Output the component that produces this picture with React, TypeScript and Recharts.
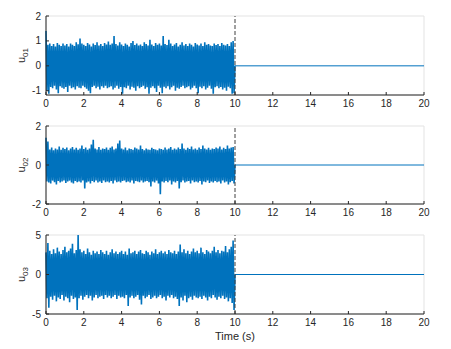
import React from "react";
import {
  LineChart,
  Line,
  XAxis,
  YAxis,
  CartesianGrid,
  ReferenceLine,
} from "recharts";

// envelope of each noisy input, one upper and one lower peak per 0.1 s (t = 0 .. 9.9)
const u01Upper = [
  1.4, 0.85, 0.9, 0.8, 0.88, 0.78, 0.92, 0.85, 0.8, 0.9,
  0.82, 0.88, 0.78, 0.9, 0.85, 0.8, 0.95, 0.87, 1.1, 0.9,
  0.85, 0.8, 0.92, 0.86, 0.78, 0.9, 0.84, 0.95, 0.82, 0.88,
  0.8, 0.92, 0.86, 0.98, 0.85, 0.9, 1.2, 0.88, 0.82, 0.95,
  0.86, 0.8, 0.9, 0.85, 0.78, 0.92, 1.0, 0.84, 0.9, 0.82,
  0.86, 0.8, 0.95, 0.88, 0.82, 1.05, 0.86, 0.8, 0.92, 0.85,
  0.9, 0.82, 1.2, 0.88, 0.84, 1.05, 0.9, 0.8, 0.86, 0.92,
  0.78, 0.85, 0.95, 0.82, 0.88, 0.8, 0.9, 0.85, 0.78, 0.92,
  0.86, 0.82, 0.9, 0.8, 0.95, 0.85, 0.88, 0.82, 0.8, 0.9,
  0.84, 0.88, 0.8, 0.92, 0.85, 0.82, 0.88, 0.8, 0.95, 1.0,
];
const u01Lower = [
  -1.0, -1.12, -0.85, -0.9, -0.8, -0.95, -1.1, -0.82, -0.88, -0.92,
  -0.85, -1.05, -0.8, -0.9, -0.86, -0.95, -0.82, -0.88, -0.9, -0.8,
  -0.86, -0.92, -1.0, -1.1, -0.85, -0.8, -0.9, -0.84, -0.95, -0.82,
  -0.88, -0.8, -0.9, -0.86, -0.82, -0.95, -0.88, -0.8, -0.92, -0.85,
  -1.12, -0.86, -0.9, -0.8, -0.95, -0.84, -0.88, -1.0, -0.82, -0.9,
  -0.85, -0.8, -0.92, -0.86, -1.12, -0.88, -0.82, -0.9, -1.05, -0.8,
  -0.88, -1.1, -0.84, -0.9, -0.82, -0.95, -0.86, -0.8, -1.0, -0.88,
  -0.92, -0.85, -0.8, -0.9, -0.86, -0.82, -0.95, -0.88, -0.8, -0.9,
  -1.1, -0.84, -0.9, -0.82, -0.95, -0.88, -0.8, -0.92, -1.12, -0.86,
  -0.82, -0.9, -0.85, -0.95, -0.88, -1.0, -0.84, -0.9, -1.12, -1.1,
];

const u02Upper = [
  1.4, 1.2, 0.8, 0.9, 0.75, 0.85, 0.8, 0.95, 0.78, 0.88,
  0.82, 0.9, 0.75, 0.85, 0.92, 0.8, 0.88, 0.78, 0.85, 1.0,
  0.82, 0.9, 0.78, 0.85, 1.05, 1.3, 0.85, 0.8, 0.92, 0.78,
  0.85, 0.82, 0.9, 0.78, 0.88, 0.95, 0.8, 0.85, 1.1, 1.25,
  0.85, 0.8, 0.9, 0.75, 0.85, 0.82, 0.78, 0.9, 0.85, 0.8,
  1.0, 0.82, 0.75, 0.85, 0.8, 0.78, 0.88, 0.82, 0.8, 0.75,
  0.85, 0.82, 0.78, 0.9, 0.8, 0.85, 0.92, 0.78, 0.85, 0.8,
  0.9, 0.82, 1.1, 0.85, 0.78, 0.88, 0.82, 0.95, 0.8, 0.85,
  0.78, 0.9, 0.82, 1.0, 0.85, 0.8, 0.88, 0.78, 0.85, 0.82,
  0.9, 0.85, 0.95, 0.8, 0.88, 0.82, 1.0, 0.85, 0.9, 0.92,
];
const u02Lower = [
  -0.85, -0.9, -0.95, -0.8, -0.88, -1.0, -0.82, -0.9, -0.85, -0.8,
  -0.92, -0.85, -0.8, -0.9, -0.95, -0.82, -0.88, -0.85, -0.9, -0.8,
  -1.2, -0.9, -0.85, -0.95, -0.82, -0.88, -0.8, -0.9, -0.85, -0.92,
  -0.8, -0.88, -0.85, -0.9, -0.82, -0.95, -0.8, -0.88, -0.85, -0.9,
  -0.82, -0.8, -0.88, -0.85, -0.9, -0.8, -0.95, -0.82, -0.85, -0.88,
  -0.8, -0.9, -0.85, -0.82, -0.88, -1.1, -0.85, -0.9, -0.8, -0.95,
  -1.5, -0.85, -0.9, -0.82, -0.88, -0.8, -1.0, -0.85, -0.9, -0.82,
  -1.2, -0.88, -0.8, -0.9, -0.85, -0.82, -0.95, -0.8, -0.88, -0.85,
  -0.9, -0.82, -1.0, -0.85, -0.88, -0.8, -0.92, -0.85, -0.9, -0.82,
  -0.88, -0.85, -0.95, -0.8, -0.9, -0.85, -1.0, -0.88, -0.82, -0.95,
];

const u03Upper = [
  2.8, 4.0, 3.0, 2.6, 3.2, 2.7, 3.4, 2.9, 2.6, 3.1,
  3.5, 2.8, 3.0, 3.3, 3.9, 2.7, 3.1, 5.0, 3.2, 2.8,
  3.0, 2.6, 3.3, 2.8, 2.5, 3.0, 2.7, 2.9, 2.6, 3.1,
  2.8, 2.6, 3.0, 2.5, 2.8, 3.2, 2.7, 2.9, 2.6, 2.8,
  3.0, 2.6, 2.9, 2.5, 3.3, 2.7, 2.8, 3.0, 2.6, 2.9,
  3.1, 2.7, 2.6, 3.0, 2.8, 2.5, 2.9, 2.7, 3.2, 2.6,
  2.8, 3.0, 2.7, 2.9, 2.6, 3.1, 2.8, 2.7, 3.0, 2.6,
  2.9, 3.8, 2.8, 3.2, 2.7, 3.0, 2.6, 2.9, 3.3, 2.8,
  3.0, 2.7, 3.4, 2.8, 2.6, 3.1, 2.9, 2.7, 3.0, 3.5,
  2.8, 3.1, 2.7, 3.0, 2.9, 3.6, 2.8, 3.2, 3.5, 4.3,
];
const u03Lower = [
  -3.0, -4.2, -2.8, -3.2, -2.7, -3.4, -2.9, -3.1, -2.6, -3.3,
  -2.8, -3.0, -3.5, -2.7, -3.1, -2.9, -4.5, -3.0, -2.7, -3.2,
  -2.8, -2.6, -3.0, -2.7, -3.3, -2.9, -2.6, -3.0, -2.8, -2.7,
  -3.1, -2.6, -2.9, -2.7, -3.0, -2.8, -2.6, -3.1, -2.7, -2.9,
  -2.8, -3.0, -2.6, -4.0, -2.9, -2.7, -3.0, -2.8, -2.6, -3.2,
  -3.8, -2.7, -3.0, -2.8, -2.6, -3.1, -2.9, -2.7, -3.0, -2.8,
  -2.6, -3.0, -2.8, -3.3, -2.7, -2.9, -2.6, -3.0, -2.8, -3.1,
  -4.0, -2.9, -3.3, -2.7, -3.5, -3.0, -2.8, -3.2, -2.7, -2.9,
  -3.0, -2.8, -3.1, -2.7, -2.9, -3.3, -2.8, -3.0, -2.6, -2.9,
  -3.2, -2.8, -3.0, -2.7, -3.1, -2.9, -3.4, -3.0, -3.6, -4.5,
];

const timeTicks = [0, 2, 4, 6, 8, 10, 12, 14, 16, 18, 20];
const inputEnd = 10;
const simEnd = 20;

const BLUE = "#0072BD";
const AXIS = "#262626";
const GRID = "#e3e3e3";
const FONT = "'Liberation Sans', Arial, sans-serif";

function buildSeries(upper: number[], lower: number[]) {
  const rows: { t: number; v: number }[] = [];
  upper.forEach((u, k) => {
    rows.push({ t: k * 0.1, v: u });
    rows.push({ t: k * 0.1 + 0.05, v: lower[k] });
  });
  rows.push({ t: inputEnd, v: 0 });
  return rows;
}

function flatTail() {
  return [
    { t: inputEnd, v: 0 },
    { t: simEnd, v: 0 },
  ];
}

interface PanelProps {
  top: number;
  plotHeight: number;
  data: { t: number; v: number }[];
  domain: [number, number];
  yTicks: number[];
  sub: string;
}

function Panel({ top, plotHeight, data, domain, yTicks, sub }: PanelProps) {
  const tickStyle = { fontSize: 10, fill: AXIS, fontFamily: FONT };
  const height = 16 + plotHeight + 16;
  return (
    <div style={{ position: "absolute", left: 0, top, width: 451, height }}>
      <LineChart
        width={451}
        height={height}
        margin={{ top: 16, right: 27, bottom: 0, left: 0 }}
      >
        <CartesianGrid stroke={GRID} strokeWidth={1} />
        <XAxis
          xAxisId="b"
          dataKey="t"
          type="number"
          domain={[0, simEnd]}
          ticks={timeTicks}
          height={16}
          tickSize={-3}
          tickMargin={8}
          stroke={AXIS}
          tick={tickStyle}
        />
        <XAxis
          xAxisId="t"
          orientation="top"
          dataKey="t"
          type="number"
          domain={[0, simEnd]}
          ticks={timeTicks}
          height={0}
          tickSize={-3}
          stroke={AXIS}
          tickFormatter={() => ""}
        />
        <YAxis
          yAxisId="l"
          type="number"
          domain={domain}
          ticks={yTicks}
          allowDataOverflow
          width={46}
          tickSize={-3}
          tickMargin={8}
          stroke={AXIS}
          tick={tickStyle}
        />
        <YAxis
          yAxisId="r"
          orientation="right"
          type="number"
          domain={domain}
          ticks={yTicks}
          allowDataOverflow
          width={0}
          tickSize={-3}
          stroke={AXIS}
          tickFormatter={() => ""}
        />
        <Line
          xAxisId="b"
          yAxisId="l"
          type="linear"
          data={data}
          dataKey="v"
          stroke={BLUE}
          strokeWidth={1.6}
          strokeLinejoin="miter"
          dot={false}
          isAnimationActive={false}
        />
        <Line
          xAxisId="b"
          yAxisId="l"
          type="linear"
          data={flatTail()}
          dataKey="v"
          stroke={BLUE}
          strokeWidth={1}
          dot={false}
          isAnimationActive={false}
        />
        <ReferenceLine
          xAxisId="b"
          yAxisId="l"
          x={inputEnd}
          stroke="#404040"
          strokeDasharray="4 2"
        />
      </LineChart>
      <svg
        width={30}
        height={height}
        style={{ position: "absolute", left: 8, top: 0 }}
      >
        <text
          transform={`translate(17, ${16 + plotHeight / 2}) rotate(-90)`}
          textAnchor="middle"
          fontFamily={FONT}
          fontSize={11}
          fill={AXIS}
        >
          u
          <tspan fontSize={8} dy={3}>
            {sub}
          </tspan>
        </text>
      </svg>
    </div>
  );
}

export default function App() {
  return (
    <div
      style={{
        position: "relative",
        width: 451,
        height: 349,
        background: "#fff",
        fontFamily: FONT,
      }}
    >
      <style>{"body{margin:0}"}</style>
      <Panel
        top={0}
        plotHeight={79}
        data={buildSeries(u01Upper, u01Lower)}
        domain={[-1.17, 2]}
        yTicks={[-1, 0, 1, 2]}
        sub="01"
      />
      <Panel
        top={110}
        plotHeight={78}
        data={buildSeries(u02Upper, u02Lower)}
        domain={[-2, 2]}
        yTicks={[-2, 0, 2]}
        sub="02"
      />
      <Panel
        top={219}
        plotHeight={79}
        data={buildSeries(u03Upper, u03Lower)}
        domain={[-5, 5]}
        yTicks={[-5, 0, 5]}
        sub="03"
      />
      <div
        style={{
          position: "absolute",
          left: 0,
          top: 330,
          width: 470,
          textAlign: "center",
          fontSize: 11,
          color: AXIS,
        }}
      >
        Time (s)
      </div>
    </div>
  );
}
